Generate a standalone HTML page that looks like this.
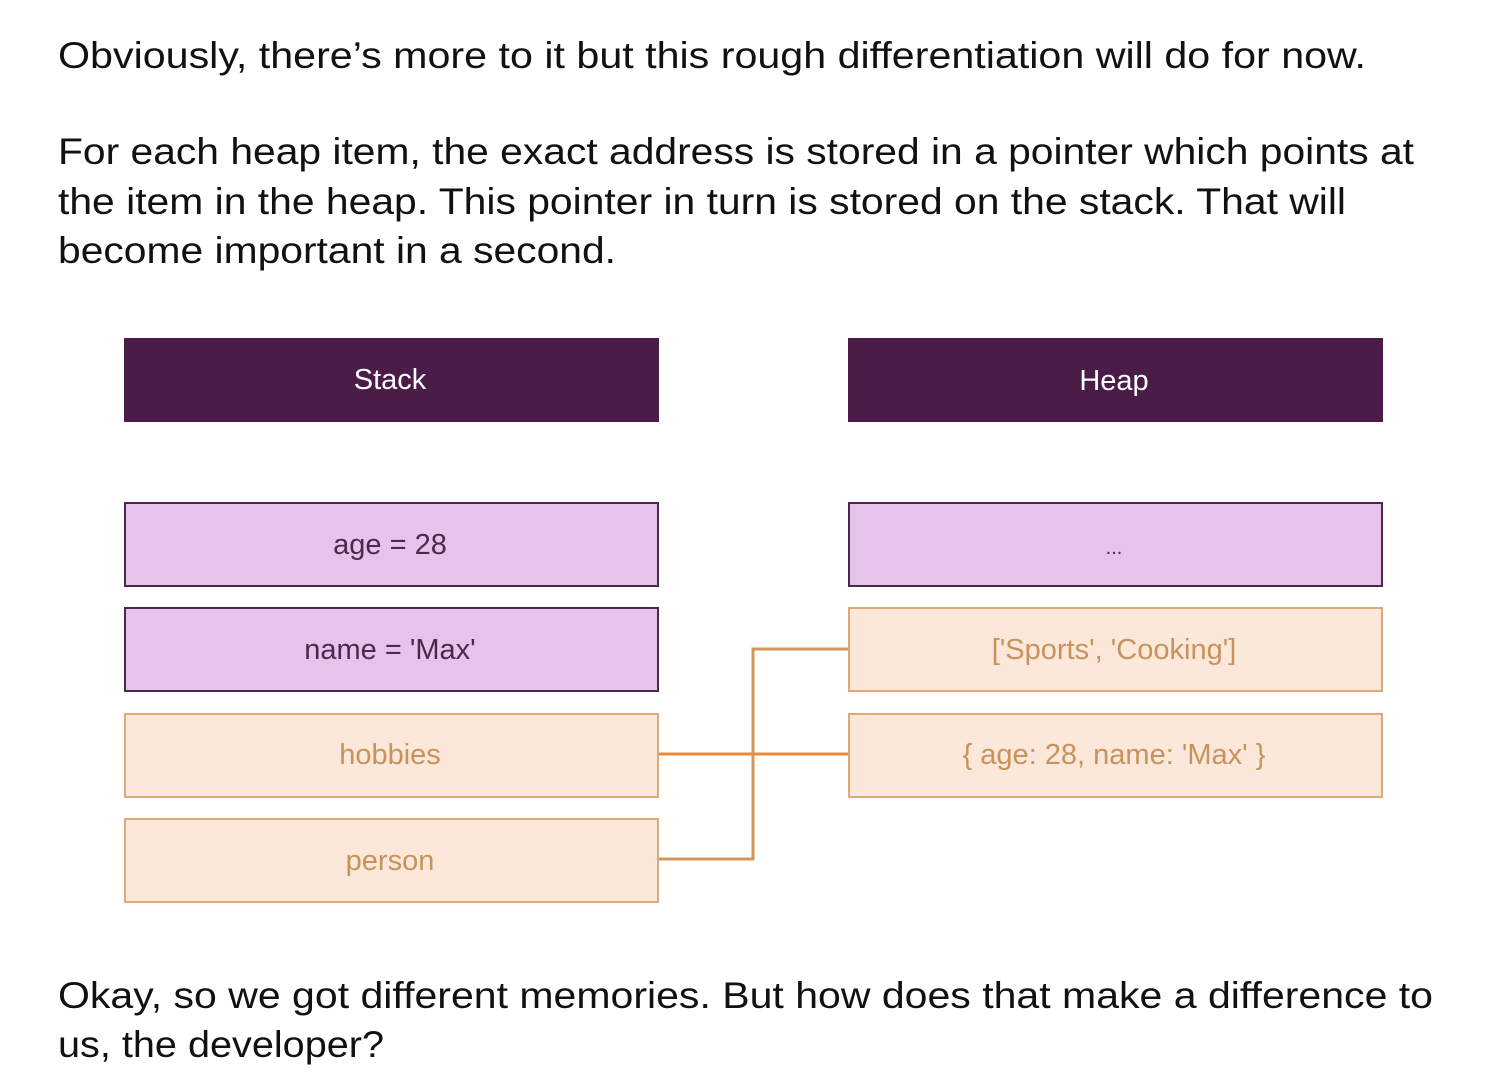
<!DOCTYPE html>
<html><head><meta charset="utf-8"><style>
html,body{margin:0;padding:0;background:#fff;width:1510px;height:1088px;overflow:hidden}
svg{display:block}
text{font-family:"Liberation Sans",sans-serif}
</style></head><body>
<svg width="1510" height="1088" viewBox="0 0 1510 1088">
<g font-size="37" fill="#111">
<text x="58" y="68" textLength="1308" lengthAdjust="spacingAndGlyphs">Obviously, there’s more to it but this rough differentiation will do for now.</text>
<text x="58" y="164" textLength="1356" lengthAdjust="spacingAndGlyphs">For each heap item, the exact address is stored in a pointer which points at</text>
<text x="58" y="214" textLength="1288" lengthAdjust="spacingAndGlyphs">the item in the heap. This pointer in turn is stored on the stack. That will</text>
<text x="58" y="263" textLength="558" lengthAdjust="spacingAndGlyphs">become important in a second.</text>
<text x="58" y="1008" textLength="1375" lengthAdjust="spacingAndGlyphs">Okay, so we got different memories. But how does that make a difference to</text>
<text x="58" y="1057" textLength="326" lengthAdjust="spacingAndGlyphs">us, the developer?</text>
</g>
<rect x="124" y="338" width="535" height="84" fill="#4a1c47"/>
<rect x="848" y="338" width="535" height="84" fill="#4a1c47"/>
<g fill="#e6c3ea" stroke="#4a2a4a" stroke-width="2">
<rect x="125" y="503" width="533" height="83"/>
<rect x="125" y="608" width="533" height="83"/>
<rect x="849" y="503" width="533" height="83"/>
</g>
<g fill="#fbe8da" stroke="#deaa7c" stroke-width="2">
<rect x="125" y="714" width="533" height="83"/>
<rect x="125" y="819" width="533" height="83"/>
<rect x="849" y="608" width="533" height="83"/>
<rect x="849" y="714" width="533" height="83"/>
</g>
<g fill="none" stroke-width="3">
<path d="M659 859 H753 V649 H848" stroke="#d4975c"/>
<path d="M659 754 H848" stroke="#ec8a3a"/>
</g>
<g font-size="29" text-anchor="middle">
<text x="390" y="389" fill="#fff">Stack</text>
<text x="1114" y="390" fill="#fff">Heap</text>
<text x="390" y="554" fill="#4a2a4a">age = 28</text>
<text x="390" y="659" fill="#4a2a4a">name = 'Max'</text>
<text x="1114" y="554" fill="#4a2a4a" font-size="20">...</text>
<text x="390" y="764" fill="#c8935a">hobbies</text>
<text x="390" y="870" fill="#c8935a">person</text>
<text x="1114" y="659" fill="#c8935a">['Sports', 'Cooking']</text>
<text x="1114" y="764" fill="#c8935a">{ age: 28, name: 'Max' }</text>
</g>
</svg>
</body></html>
